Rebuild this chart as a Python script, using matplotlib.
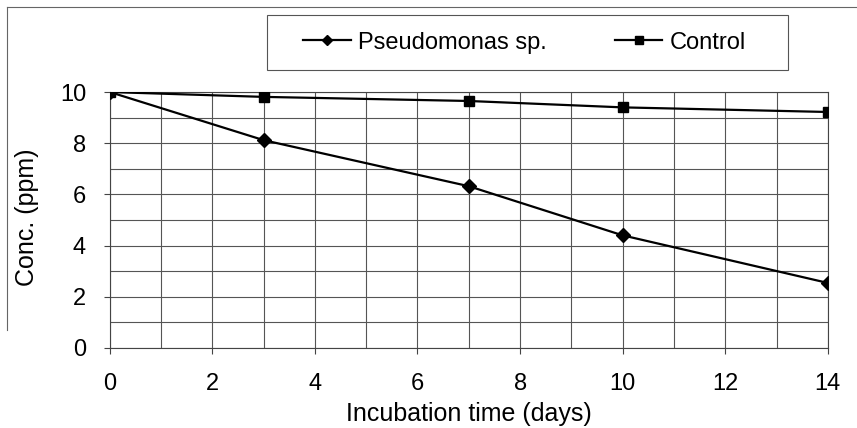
import matplotlib
matplotlib.use("Agg")
import matplotlib.pyplot as plt
from matplotlib.lines import Line2D
from matplotlib.patches import Rectangle
import numpy as np

# data
days = [0, 3, 7, 10, 14]
pseudomonas = [10.0, 8.12, 6.32, 4.4, 2.54]
control = [10.0, 9.81, 9.65, 9.4, 9.22]
labels = ["Pseudomonas sp.", "Control"]
xticks = [0, 2, 4, 6, 8, 10, 12, 14]
yticks = [0, 2, 4, 6, 8, 10]

plt.rcParams["font.family"] = ["Liberation Sans", "DejaVu Sans"]

fig = plt.figure(figsize=(8.57, 4.28), dpi=100)
ax = fig.add_axes([0.128, 0.187, 0.838, 0.598])

ax.plot(days, pseudomonas, color="black", lw=1.6, marker="D", ms=7,
        label=labels[0], zorder=3)
ax.plot(days, control, color="black", lw=1.6, marker="s", ms=7.5,
        label=labels[1], zorder=3)

ax.set_xlim(0, 14)
ax.set_ylim(0, 10)
ax.set_xticks(xticks)
ax.set_yticks(yticks)
ax.set_xticks(np.arange(0, 15, 1), minor=True)
ax.set_yticks(np.arange(0, 11, 1), minor=True)
ax.grid(True, which="both", color="#555555", lw=0.8)
ax.set_axisbelow(True)
ax.tick_params(which="minor", length=0)
ax.tick_params(which="major", length=4, width=0.8, color="#444444",
               labelsize=17, pad=13)
ax.tick_params(axis="x", which="major", pad=14)
for s in ax.spines.values():
    s.set_color("#444444")
    s.set_linewidth(0.8)

ax.set_xlabel("Incubation time (days)", fontsize=18, labelpad=5)
ax.set_ylabel("Conc. (ppm)", fontsize=18)
ax.yaxis.set_label_coords(-0.098, 0.51)

leg = ax.legend(loc="center", bbox_to_anchor=(0.612, 0.9007),
                bbox_transform=fig.transFigure, ncol=2, fontsize=17,
                frameon=False, handlelength=2.0, handletextpad=0.3,
                columnspacing=2.9, borderpad=0, borderaxespad=0,
                markerscale=0.75)

# legend box as drawn in the scan
fig.add_artist(Rectangle((267 / 857, 1 - 70 / 428), 521 / 857, 55 / 428,
                         transform=fig.transFigure, fill=False,
                         edgecolor="#555555", lw=0.8))

# scanned outer frame
fig.add_artist(Line2D([0.008, 1.0], [0.984, 0.984], transform=fig.transFigure,
                      color="#666666", lw=0.8))
fig.add_artist(Line2D([0.008, 0.008], [0.984, 0.23], transform=fig.transFigure,
                      color="#666666", lw=0.8))

fig.savefig("out.png", dpi=100)
